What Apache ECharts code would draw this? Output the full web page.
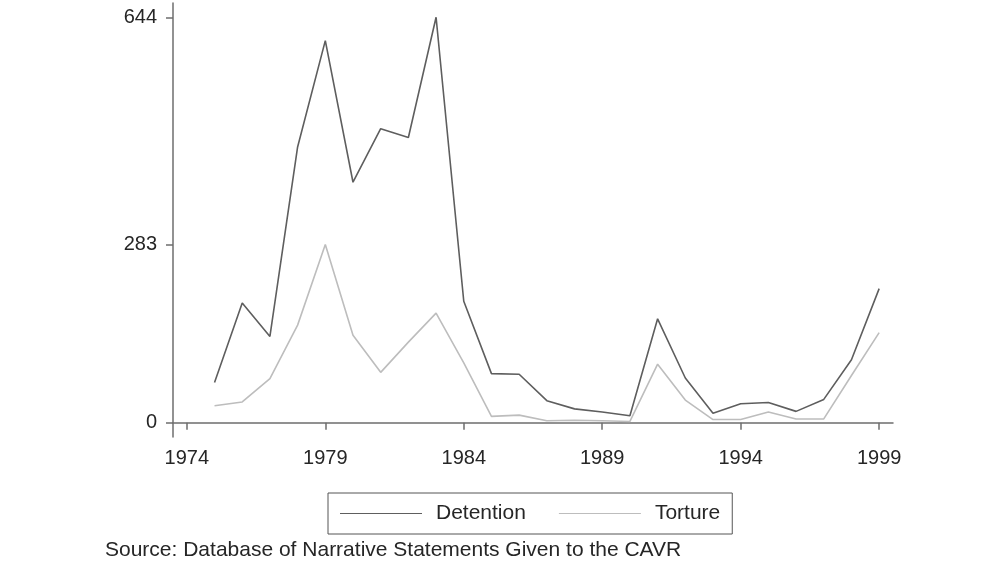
<!DOCTYPE html>
<html>
<head>
<meta charset="utf-8">
<title>Detention and Torture, 1975-1999</title>
<script src="https://cdn.jsdelivr.net/npm/echarts@6/dist/echarts.min.js"></script>
<style>
  html, body { margin: 0; padding: 0; background: #ffffff; }
  #chart { width: 981px; height: 561px; }
</style>
</head>
<body>
<div id="chart"></div>
<script>
// Annual counts of reported violations
const years = [1975, 1976, 1977, 1978, 1979, 1980, 1981, 1982, 1983, 1984, 1985, 1986,
               1987, 1988, 1989, 1990, 1991, 1992, 1993, 1994, 1995, 1996, 1997, 1998, 1999];
const detention = [64, 190, 137, 438, 607, 382, 467, 453, 644, 193, 78, 77,
                   35, 22, 17, 11, 165, 71, 15, 30, 32, 18, 37, 100, 213];
const torture = [27, 33, 70, 155, 283, 139, 80, 128, 174, 95, 10, 12,
                 3, 4, 3, 2, 93, 36, 5, 5, 17, 6, 6, 75, 143];

const xTicks = [1974, 1979, 1984, 1989, 1994, 1999];
const yTicks = [0, 283, 644];

const pair = (vals) => years.map((y, i) => [y, vals[i]]);

const FONT = '"Liberation Sans", Arial, Helvetica, sans-serif';
const axisGray = '#6e6e6e';
const textGray = '#262626';

const chart = echarts.init(document.getElementById('chart'), null, { renderer: 'canvas' });

chart.setOption({
  backgroundColor: '#ffffff',
  animation: false,
  textStyle: { fontFamily: FONT },
  grid: { left: 173, right: 88, top: 3, bottom: 124, containLabel: false },
  title: {
    text: 'Source: Database of Narrative Statements Given to the CAVR',
    left: 105,
    top: 540,
    padding: 0,
    textStyle: { fontFamily: FONT, fontSize: 21, fontWeight: 'normal', color: textGray }
  },
  legend: {
    left: 328,
    top: 493,
    padding: [10, 12, 10, 12],
    itemGap: 33,
    itemWidth: 82,
    itemHeight: 22,
    borderColor: '#555555',
    borderWidth: 1,
    icon: 'path://M0,10 L82,10 L82,11 L0,11 Z',
    textStyle: { fontFamily: FONT, fontSize: 21, color: textGray, padding: [0, 0, 0, 9] },
    data: ['Detention', 'Torture']
  },
  xAxis: {
    type: 'value',
    min: 1973.5,
    max: 1999.5,
    splitLine: { show: false },
    axisLine: { show: true, lineStyle: { color: axisGray, width: 1.5 } },
    axisTick: { show: true, length: 7, lineStyle: { color: axisGray, width: 1.5 }, customValues: xTicks },
    axisLabel: { fontFamily: FONT, fontSize: 20, color: textGray, margin: 11, customValues: xTicks,
                 formatter: (v) => String(v) }
  },
  yAxis: {
    type: 'value',
    min: -22.7,
    max: 666.7,
    splitLine: { show: false },
    axisLine: { show: true, lineStyle: { color: axisGray, width: 1.5 } },
    axisTick: { show: true, length: 7, lineStyle: { color: axisGray, width: 1.5 }, customValues: yTicks },
    axisLabel: { fontFamily: FONT, fontSize: 20, color: textGray, margin: 16, customValues: yTicks }
  },
  series: [
    {
      name: 'Detention',
      type: 'line',
      data: pair(detention),
      symbol: 'none',
      itemStyle: { color: '#5e5e5e' },
      lineStyle: { color: '#5e5e5e', width: 1.6 }
    },
    {
      name: 'Torture',
      type: 'line',
      data: pair(torture),
      symbol: 'none',
      itemStyle: { color: '#bdbdbd' },
      lineStyle: { color: '#bdbdbd', width: 1.6 }
    }
  ]
});
</script>
</body>
</html>
